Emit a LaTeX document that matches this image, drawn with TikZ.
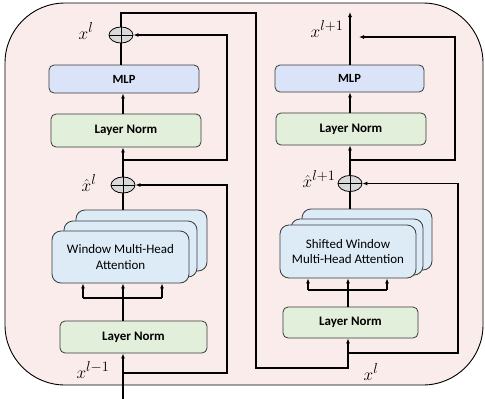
\documentclass[tikz,border=0pt]{standalone}
\usepackage{fontspec}
\newfontfamily\calibri{Carlito}
\usetikzlibrary{arrows.meta,shapes.geometric}

\definecolor{panelbg}{HTML}{F9ECEA}
\definecolor{lnfill}{HTML}{E2EFDA}
\definecolor{mlpfill}{HTML}{DAE3F7}
\definecolor{attfill}{HTML}{DDEBF7}
\definecolor{addfill}{HTML}{D9D9D9}
\definecolor{boxline}{HTML}{3A3A3A}

\tikzset{
  blk/.style={draw=boxline, line width=0.8pt, rounded corners=5pt, inner sep=0pt,
    font=\calibri\bfseries\fontsize{13}{15}\selectfont},
  lnbox/.style={blk, fill=lnfill},
  mlpbox/.style={blk, fill=mlpfill, font=\calibri\bfseries\fontsize{12.5}{15}\selectfont},
  attbox/.style={draw=boxline, line width=0.8pt, rounded corners=9pt, fill=attfill,
    inner sep=0pt, align=center, font=\calibri\fontsize{13}{15.5}\selectfont},
  addop/.style={ellipse, draw=black, line width=0.8pt, fill=addfill,
    minimum width=24pt, minimum height=16pt, inner sep=0pt,
    path picture={\draw[line width=0.8pt]
      (path picture bounding box.west) -- (path picture bounding box.east)
      (path picture bounding box.north) -- (path picture bounding box.south);}},
  wire/.style={line width=1.5pt, black},
  arr/.style={wire, -{Latex[length=5pt,width=4pt]}},
  lbl/.style={font=\fontsize{19}{21}\selectfont, inner sep=0pt}
}

\begin{document}
\begin{tikzpicture}[x=1pt,y=-1pt]
\useasboundingbox (0,0) rectangle (485,399);

% panel
\draw[fill=panelbg, line width=0.9pt, rounded corners=60pt] (5,3) rectangle (483,385);

% ---------- first block (W-MSA) ----------
\node[mlpbox, minimum width=150pt, minimum height=28pt] (mlpL) at (124,79) {MLP};
\node[lnbox, minimum width=150pt, minimum height=33pt] (lnL1) at (126,130.5) {Layer Norm};
\node[addop] (addL2) at (121,35) {};
\node[addop] (addL1) at (123,185) {};

\node[attbox, minimum width=131pt, minimum height=61pt] (attL3) at (141.5,240.5) {};
\node[attbox, minimum width=133pt, minimum height=56pt] (attL2) at (130.5,249) {};
\node[attbox, minimum width=137pt, minimum height=52pt] (attL) at (120.5,257) {Window Multi-Head\\Attention};
\node[lnbox, minimum width=147pt, minimum height=32pt] (lnL2) at (133.5,337) {Layer Norm};

\node[lbl] (xlA) at (86,31) {$x^{l}$};
\node[lbl] (xhatL) at (89,183) {$\hat{x}^{l}$};
\node[lbl] (xlm1) at (93,370) {$x^{l-1}$};

% ---------- second block (SW-MSA) ----------
\node[mlpbox, minimum width=149pt, minimum height=27pt] (mlpR) at (349.5,78.5) {MLP};
\node[lnbox, minimum width=150pt, minimum height=32pt] (lnR1) at (351,129) {Layer Norm};
\node[addop] (addR1) at (350,183.5) {};

\node[attbox, minimum width=130pt, minimum height=61pt] (attR3) at (367,239.5) {};
\node[attbox, minimum width=132pt, minimum height=56pt] (attR2) at (357,247) {};
\node[attbox, minimum width=136pt, minimum height=53pt] (attR) at (348,251.5) {Shifted Window\\Multi-Head Attention};
\node[lnbox, minimum width=135pt, minimum height=31pt] (lnR2) at (350.5,322.5) {Layer Norm};

\node[lbl] (xlp1) at (327,29) {$x^{l+1}$};
\node[lbl] (xhatR) at (319,179) {$\hat{x}^{l+1}$};
\node[lbl] (xlB) at (371,372) {$x^{l}$};

% ---------- routing points ----------
\coordinate (topL) at (121,13);
\coordinate (topR) at (256,13);
\coordinate (downR) at (256,368);
\coordinate (inR) at (348,368);

\coordinate (jL) at (123,160);
\coordinate (cL1) at (227,160);
\coordinate (cL2) at (227,35);

\coordinate (inL) at (123,399);
\coordinate (bL) at (123,373);
\coordinate (bL1) at (227,373);
\coordinate (barL1) at (83,298);
\coordinate (barL2) at (162,298);

\coordinate (outR) at (350,12);
\coordinate (jR) at (350,160);
\coordinate (cR1) at (455,160);
\coordinate (cR2) at (455,37);
\coordinate (cR3) at (359,37);
\coordinate (bR) at (348,353);
\coordinate (bR1) at (458,353);
\coordinate (barR1) at (308,290);
\coordinate (barR2) at (387,290);

% ---------- connectors, first block ----------
\draw[wire] (mlpL.north -| addL2) -- (addL2.south);
\draw[arr] (lnL1.north -| jL) -- (mlpL.south -| jL);
\draw[arr] (addL1.north) -- (lnL1.south -| addL1);
\draw[arr] (jL) -- (cL1) -- (cL2) -- (addL2.east);
\draw[wire] (addL1.south) -- (attL3.north -| addL1);
\draw[arr] (inL) -- (lnL2.south -| inL);
\draw[arr] (bL) -- (bL1) -- (addL1.east -| bL1) -- (addL1.east);
\draw[arr] (lnL2.north -| inL) -- (attL.south -| inL);
\draw[wire] (barL1) -- (barL2);
\draw[arr] (barL1) -- (barL1 |- attL.south);
\draw[arr] (barL2) -- (barL2 |- attL.south);

% output of the first block feeds the second
\draw[arr] (addL2.north) -- (topL) -- (topR) -- (downR) -- (inR) -- (inR |- lnR2.south);

% ---------- connectors, second block ----------
\draw[arr] (mlpR.north -| outR) -- (outR);
\draw[arr] (lnR1.north -| jR) -- (mlpR.south -| jR);
\draw[arr] (jR) -- (cR1) -- (cR2) -- (cR3);
\draw[arr] (addR1.north) -- (lnR1.south -| addR1);
\draw[wire] (addR1.south) -- (attR3.north -| addR1);
\draw[arr] (bR) -- (bR1) -- (addR1.east -| bR1) -- (addR1.east);
\draw[arr] (lnR2.north -| bR) -- (attR.south -| bR);
\draw[wire] (barR1) -- (barR2);
\draw[arr] (barR1) -- (barR1 |- attR.south);
\draw[arr] (barR2) -- (barR2 |- attR.south);
\end{tikzpicture}
\end{document}
